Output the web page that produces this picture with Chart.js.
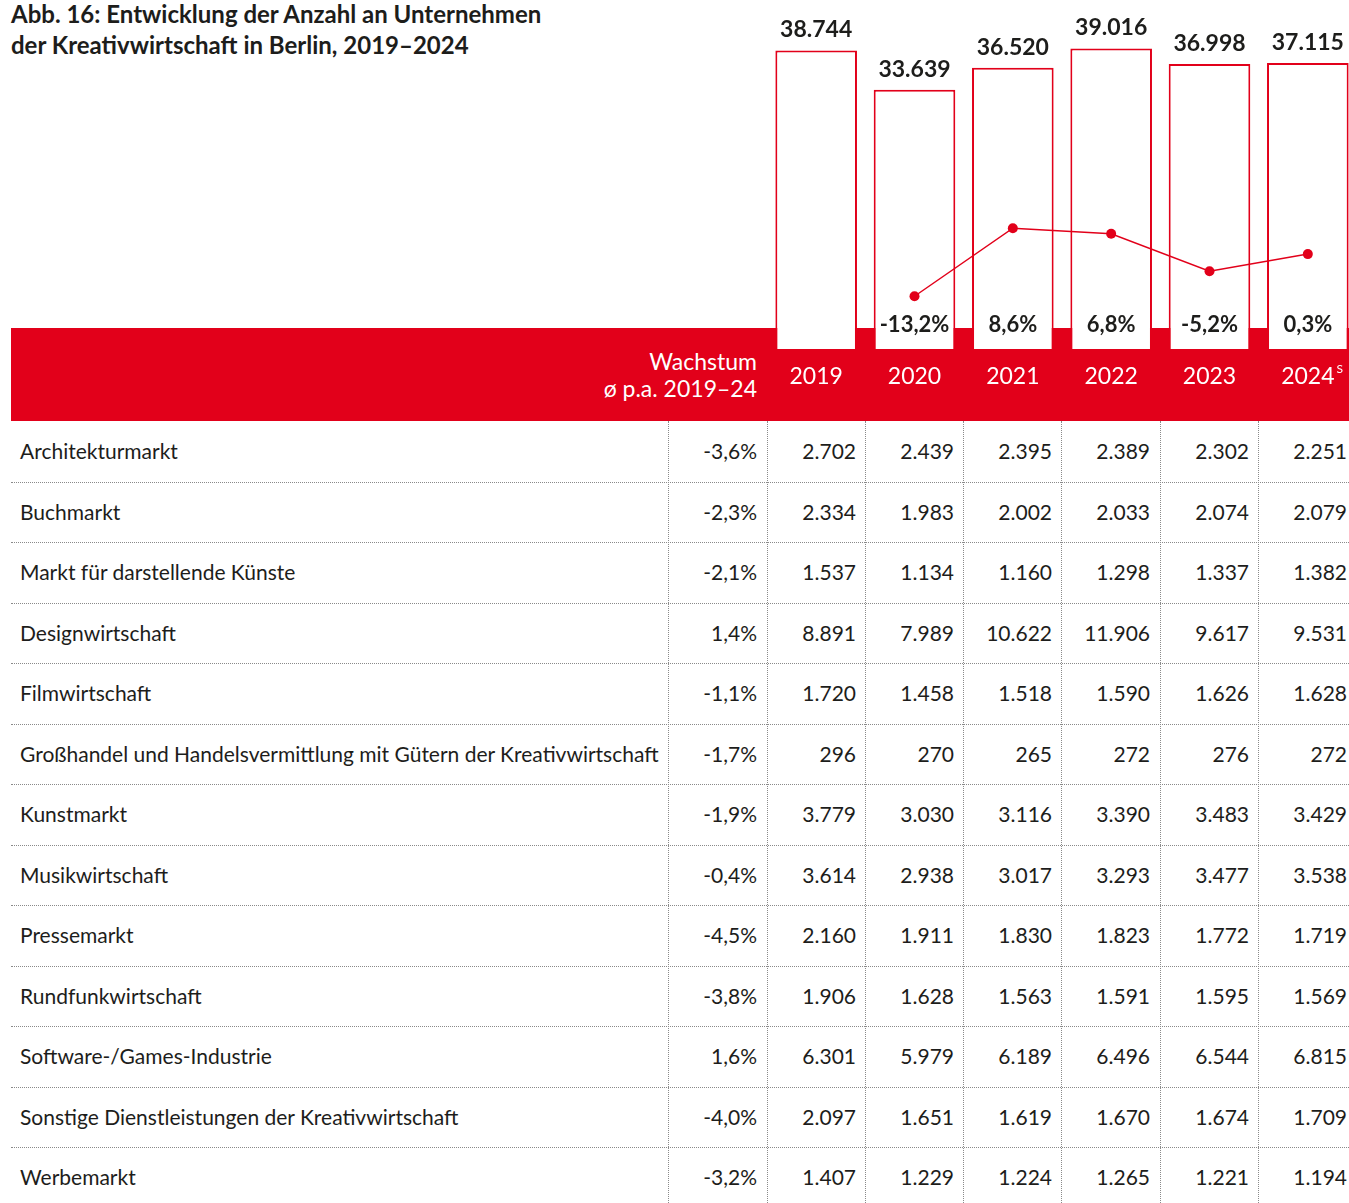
<!DOCTYPE html>
<html lang="de">
<head>
<meta charset="utf-8">
<title>Abb. 16</title>
<script src="https://cdn.jsdelivr.net/npm/chart.js@4.4.1/dist/chart.umd.min.js"></script>
<style>
  html, body { margin: 0; padding: 0; background: #fff; overflow: hidden; }
  body { width: 1349px; height: 1203px; position: relative; font-family: Lato, "Noto Sans", sans-serif; color: #1d1d1b; }
  #title { position: absolute; left: 11px; top: -2px; font-weight: 700; font-size: 24px; line-height: 31px; }
  #band { position: absolute; left: 11px; top: 328px; width: 1338px; height: 93px; background: #e2001a; }
  #growthHead { position: absolute; right: 592px; top: 348px; color: #fff; font-size: 23px; line-height: 27px; text-align: right; }
  #chart { position: absolute; left: 767px; top: 0; }
  .cell { position: absolute; font-size: 21px; line-height: 60px; white-space: nowrap; }
  .hline { position: absolute; left: 11px; width: 1338px; border-top: 1px dotted #8a8a8a; height: 0; }
  .vline { position: absolute; top: 421px; height: 782px; border-left: 1px dotted #8a8a8a; width: 0; }
</style>
</head>
<body>
<div id="title">Abb. 16: Entwicklung der Anzahl an Unternehmen<br>der Kreativwirtschaft in Berlin, 2019–2024</div>
<div id="band"></div>
<div id="growthHead">Wachstum<br>ø p.a. 2019–24</div>
<canvas id="chart" width="590" height="421"></canvas>
<div id="table"></div>
<script>
const years = ['2019', '2020', '2021', '2022', '2023', '2024'];
const totals = [38744, 33639, 36520, 39016, 36998, 37115];
const growth = [null, -13.2, 8.6, 6.8, -5.2, 0.3];

const rowLabels = [
  'Architekturmarkt',
  'Buchmarkt',
  'Markt für darstellende Künste',
  'Designwirtschaft',
  'Filmwirtschaft',
  'Großhandel und Handelsvermittlung mit Gütern der Kreativwirtschaft',
  'Kunstmarkt',
  'Musikwirtschaft',
  'Pressemarkt',
  'Rundfunkwirtschaft',
  'Software-/Games-Industrie',
  'Sonstige Dienstleistungen der Kreativwirtschaft',
  'Werbemarkt'
];
const rowCagr = [-3.6, -2.3, -2.1, 1.4, -1.1, -1.7, -1.9, -0.4, -4.5, -3.8, 1.6, -4.0, -3.2];
const rowValues = [
  [2702, 2439, 2395, 2389, 2302, 2251],
  [2334, 1983, 2002, 2033, 2074, 2079],
  [1537, 1134, 1160, 1298, 1337, 1382],
  [8891, 7989, 10622, 11906, 9617, 9531],
  [1720, 1458, 1518, 1590, 1626, 1628],
  [296, 270, 265, 272, 276, 272],
  [3779, 3030, 3116, 3390, 3483, 3429],
  [3614, 2938, 3017, 3293, 3477, 3538],
  [2160, 1911, 1830, 1823, 1772, 1719],
  [1906, 1628, 1563, 1591, 1595, 1569],
  [6301, 5979, 6189, 6496, 6544, 6815],
  [2097, 1651, 1619, 1670, 1674, 1709],
  [1407, 1229, 1224, 1265, 1221, 1194]
];

const red = '#e2001a';
const ink = '#1d1d1b';

function fmtInt(v) {
  return String(v).replace(/\B(?=(\d{3})+(?!\d))/g, '.');
}
function fmtPct(v) {
  return v.toFixed(1).replace('.', ',') + '%';
}

// table below the band
const table = document.getElementById('table');
const rowTop = 421, rowH = 60.5;
const colRight = [757, 856, 954, 1052, 1150, 1249, 1347];
const colLines = [668, 767, 865, 963, 1061, 1160, 1258];

rowLabels.forEach((label, i) => {
  const top = rowTop + i * rowH;
  const lab = document.createElement('div');
  lab.className = 'cell';
  lab.style.left = '20px';
  lab.style.top = top + 'px';
  lab.textContent = label;
  table.appendChild(lab);

  const cells = [fmtPct(rowCagr[i])].concat(rowValues[i].map(fmtInt));
  cells.forEach((txt, j) => {
    const c = document.createElement('div');
    c.className = 'cell';
    c.style.right = (1349 - colRight[j]) + 'px';
    c.style.top = top + 'px';
    c.textContent = txt;
    table.appendChild(c);
  });

  if (i < rowLabels.length - 1) {
    const hl = document.createElement('div');
    hl.className = 'hline';
    hl.style.top = Math.round(top + rowH) + 'px';
    table.appendChild(hl);
  }
});
colLines.forEach(x => {
  const vl = document.createElement('div');
  vl.className = 'vline';
  vl.style.left = x + 'px';
  table.appendChild(vl);
});

// labels on the chart
const labelPlugin = {
  id: 'labels',
  afterDatasetsDraw(chart) {
    const ctx = chart.ctx;
    const bars = chart.getDatasetMeta(1).data;
    ctx.save();
    ctx.textAlign = 'center';
    ctx.textBaseline = 'alphabetic';
    bars.forEach((bar, i) => {
      ctx.fillStyle = ink;
      ctx.font = 'bold 23px Lato, "Noto Sans", sans-serif';
      ctx.fillText(fmtInt(totals[i]), bar.x, bar.y - 13);
      if (growth[i] !== null) {
        ctx.font = 'bold 22px Lato, "Noto Sans", sans-serif';
        ctx.fillText(fmtPct(growth[i]), bar.x, 332);
      }
      ctx.fillStyle = '#fff';
      ctx.font = '23px Lato, "Noto Sans", sans-serif';
      ctx.fillText(years[i], bar.x, 384);
      if (i === years.length - 1) {
        const w = ctx.measureText(years[i]).width;
        ctx.font = '12px Lato, "Noto Sans", sans-serif';
        ctx.textAlign = 'left';
        ctx.fillText('S', bar.x + w / 2 + 2, 373);
        ctx.textAlign = 'center';
      }
    });
    ctx.restore();
  }
};

new Chart(document.getElementById('chart').getContext('2d'), {
  data: {
    labels: years,
    datasets: [
      {
        type: 'line',
        label: 'Wachstum',
        data: growth,
        yAxisID: 'y2',
        borderColor: red,
        backgroundColor: red,
        borderWidth: 1.5,
        pointRadius: 5,
        pointBorderWidth: 0,
        order: 0
      },
      {
        type: 'bar',
        label: 'Unternehmen',
        data: totals,
        yAxisID: 'y',
        backgroundColor: '#fff',
        borderColor: red,
        borderWidth: 2,
        barPercentage: 0.83,
        categoryPercentage: 1,
        order: 1
      }
    ]
  },
  options: {
    responsive: false,
    animation: false,
    layout: { autoPadding: false, padding: { top: 10, bottom: 72, left: 0, right: 0 } },
    plugins: { legend: { display: false }, tooltip: { enabled: false } },
    scales: {
      x: { display: false, offset: true },
      y: { display: false, min: 0, max: 44000 },
      y2: { display: false, min: -30.1, max: 78.5 }
    }
  },
  plugins: [labelPlugin]
});
</script>
</body>
</html>
